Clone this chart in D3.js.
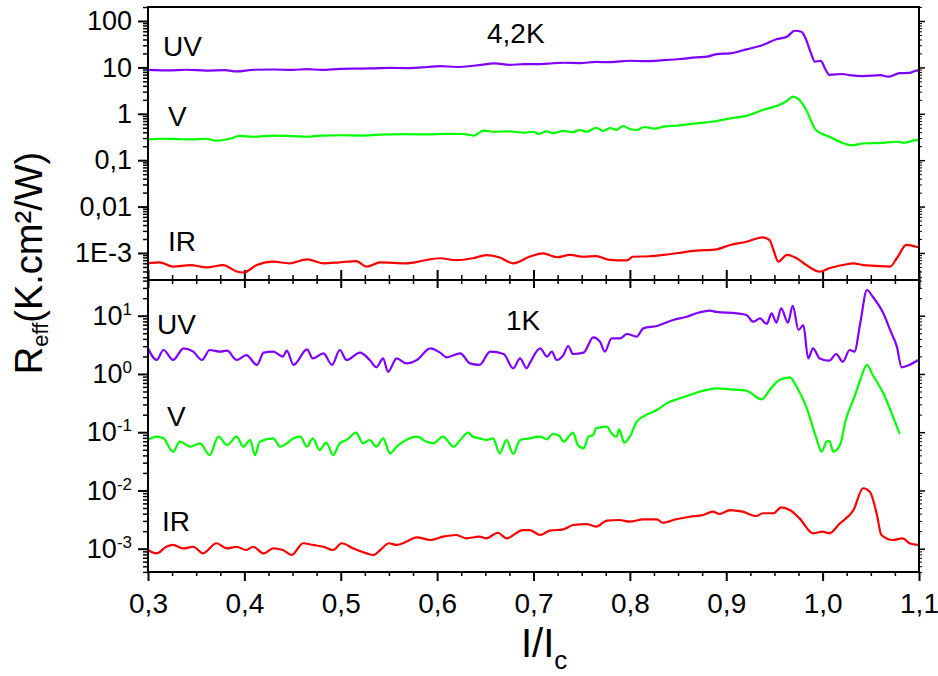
<!DOCTYPE html>
<html><head><meta charset="utf-8">
<script src="https://cdn.jsdelivr.net/npm/d3@7"></script>
<style>
body{margin:0;background:#fff}
text{font-family:"Liberation Sans",Arial,Helvetica,sans-serif;fill:#000}
</style>
</head><body>
<svg id="chart" width="938" height="676"></svg>
<script>
// ---------------- data ----------------
const xTicks = [0.3,0.4,0.5,0.6,0.7,0.8,0.9,1.0,1.1];
const xTickLabels = ["0,3","0,4","0,5","0,6","0,7","0,8","0,9","1,0","1,1"];
const topTicks = [100,10,1,0.1,0.01,0.001];
const topTickLabels = ["100","10","1","0,1","0,01","1E-3"];
const botTicks = [10,1,0.1,0.01,0.001];
const botTickExps = ["1","0","-1","-2","-3"];
const seriesNames = ["UV","V","IR"];
const seriesColors = ["#8000ff","#00ff00","#ff0000"];
const panelLabels = ["4,2K","1K"];

// 4,2 K panel
const uvHot = [[0.300,8.8],[0.320,8.6],[0.340,8.9],[0.360,8.5],[0.380,8.7],[0.392,8.2],[0.410,8.9],[0.430,9.0],[0.450,8.8],[0.465,9.2],[0.480,8.8],[0.500,9.3],[0.520,9.4],[0.533,9.5],[0.550,9.8],[0.570,9.6],[0.590,10.2],[0.603,10.7],[0.620,10.2],[0.640,11.0],[0.660,12.2],[0.675,11.3],[0.690,11.8],[0.707,11.8],[0.720,12.3],[0.731,12.6],[0.748,12.4],[0.765,13.1],[0.780,13.0],[0.800,13.9],[0.818,13.6],[0.835,14.4],[0.850,15.0],[0.869,16.5],[0.880,17.0],[0.890,19.4],[0.904,20.1],[0.921,24.5],[0.938,30.4],[0.952,40.4],[0.963,45.9],[0.971,61.6],[0.978,58.8],[0.983,39],[0.988,20],[0.992,13.3],[0.998,13.8],[1.003,9.0],[1.007,6.9],[1.020,7.2],[1.030,6.7],[1.042,6.5],[1.060,6.8],[1.068,6.3],[1.080,7.5],[1.090,7.6],[1.097,8.5],[1.100,8.6]];
const vHot = [[0.300,0.282],[0.315,0.29],[0.330,0.285],[0.345,0.28],[0.360,0.29],[0.371,0.263],[0.385,0.29],[0.395,0.333],[0.410,0.32],[0.430,0.34],[0.450,0.33],[0.465,0.32],[0.480,0.34],[0.500,0.345],[0.520,0.34],[0.540,0.355],[0.568,0.363],[0.590,0.36],[0.610,0.37],[0.627,0.367],[0.638,0.34],[0.648,0.432],[0.660,0.41],[0.675,0.42],[0.690,0.39],[0.700,0.41],[0.705,0.37],[0.714,0.42],[0.720,0.38],[0.731,0.43],[0.740,0.40],[0.748,0.448],[0.755,0.41],[0.765,0.50],[0.772,0.43],[0.780,0.49],[0.786,0.45],[0.793,0.546],[0.800,0.47],[0.807,0.448],[0.815,0.52],[0.825,0.48],[0.835,0.527],[0.850,0.56],[0.869,0.624],[0.890,0.70],[0.904,0.80],[0.921,0.90],[0.938,1.21],[0.952,1.47],[0.963,1.89],[0.969,2.34],[0.976,1.98],[0.983,1.21],[0.993,0.448],[1.007,0.32],[1.024,0.223],[1.030,0.21],[1.042,0.229],[1.060,0.235],[1.077,0.25],[1.085,0.238],[1.097,0.272],[1.100,0.27]];
const irHot = [[0.300,6.0e-4],[0.312,6.3e-4],[0.326,5.1e-4],[0.344,5.5e-4],[0.361,4.9e-4],[0.378,5.5e-4],[0.392,4.0e-4],[0.399,3.8e-4],[0.413,5.5e-4],[0.430,6.5e-4],[0.447,6.0e-4],[0.465,7.3e-4],[0.482,6.0e-4],[0.499,6.3e-4],[0.516,6.7e-4],[0.527,5.1e-4],[0.541,6.3e-4],[0.568,6.0e-4],[0.585,6.8e-4],[0.603,7.7e-4],[0.620,7.0e-4],[0.637,7.7e-4],[0.651,9.0e-4],[0.665,8.0e-4],[0.679,6.0e-4],[0.696,8.3e-4],[0.710,9.8e-4],[0.724,8.1e-4],[0.738,9.1e-4],[0.752,8.3e-4],[0.765,8.6e-4],[0.779,7.1e-4],[0.797,6.9e-4],[0.803,8.3e-4],[0.820,8.5e-4],[0.835,9.1e-4],[0.850,1.0e-3],[0.869,1.12e-3],[0.890,1.2e-3],[0.904,1.49e-3],[0.921,1.75e-3],[0.938,2.18e-3],[0.945,1.9e-3],[0.949,1.16e-3],[0.954,6.5e-4],[0.963,9.1e-4],[0.973,7.7e-4],[0.983,5.5e-4],[0.997,3.95e-4],[1.007,4.7e-4],[1.021,5.5e-4],[1.032,6.0e-4],[1.042,5.5e-4],[1.055,5.3e-4],[1.070,5.1e-4],[1.077,7.7e-4],[1.087,1.49e-3],[1.097,1.36e-3],[1.100,1.3e-3]];

// 1 K panel
const uvCold = [[0.300,2.75],[0.309,1.74],[0.316,2.58],[0.326,1.74],[0.337,2.75],[0.347,2.41],[0.356,1.74],[0.364,2.58],[0.375,2.41],[0.382,2.51],[0.392,1.74],[0.402,2.11],[0.413,1.43],[0.420,2.32],[0.430,2.41],[0.440,1.98],[0.444,2.51],[0.451,1.43],[0.465,2.65],[0.471,1.85],[0.482,2.26],[0.491,1.43],[0.499,2.58],[0.506,1.74],[0.520,2.32],[0.530,1.74],[0.537,1.30],[0.544,1.85],[0.549,1.09],[0.558,1.85],[0.568,1.52],[0.579,1.74],[0.593,2.75],[0.603,2.32],[0.610,1.93],[0.624,2.26],[0.634,1.52],[0.644,1.43],[0.655,2.41],[0.669,2.2],[0.679,1.25],[0.686,1.85],[0.693,1.25],[0.696,1.52],[0.707,2.75],[0.714,1.98],[0.719,2.41],[0.724,1.74],[0.731,2.11],[0.736,3.02],[0.741,2.2],[0.752,2.32],[0.762,4.26],[0.769,3.58],[0.774,2.41],[0.781,4.09],[0.790,4.09],[0.797,4.85],[0.807,4.37],[0.814,6.07],[0.828,6.65],[0.845,8.43],[0.859,9.6],[0.869,11.0],[0.883,12.2],[0.890,11.6],[0.911,11.0],[0.921,10.3],[0.928,7.89],[0.935,9.0],[0.942,7.2],[0.947,11.0],[0.952,7.6],[0.957,13.4],[0.964,7.6],[0.969,14.7],[0.975,5.7],[0.980,6.9],[0.985,1.85],[0.990,2.75],[0.997,1.85],[1.007,1.69],[1.014,2.2],[1.021,1.62],[1.028,2.58],[1.033,2.41],[1.039,7.4],[1.046,27.6],[1.052,21.2],[1.063,11.0],[1.070,5.7],[1.077,2.94],[1.082,1.30],[1.090,1.43],[1.099,1.74]];
const vCold = [[0.300,0.0735],[0.309,0.0838],[0.316,0.0785],[0.326,0.0462],[0.333,0.0687],[0.344,0.0564],[0.354,0.0644],[0.364,0.0405],[0.373,0.0838],[0.382,0.0603],[0.392,0.0838],[0.399,0.0564],[0.406,0.0735],[0.411,0.0405],[0.416,0.0687],[0.430,0.0785],[0.437,0.0564],[0.444,0.0644],[0.451,0.0785],[0.458,0.0838],[0.465,0.0564],[0.471,0.0785],[0.478,0.0494],[0.485,0.066],[0.492,0.0405],[0.499,0.0644],[0.506,0.0735],[0.516,0.098],[0.523,0.0644],[0.530,0.0735],[0.537,0.0564],[0.544,0.0785],[0.551,0.0434],[0.558,0.0564],[0.568,0.0735],[0.579,0.0838],[0.589,0.0687],[0.596,0.0644],[0.606,0.0838],[0.617,0.0564],[0.624,0.0735],[0.632,0.098],[0.637,0.0838],[0.644,0.0785],[0.651,0.0735],[0.658,0.0785],[0.665,0.0434],[0.672,0.0735],[0.679,0.0423],[0.686,0.0735],[0.696,0.0785],[0.707,0.0838],[0.714,0.0755],[0.720,0.0931],[0.727,0.086],[0.731,0.0687],[0.738,0.0895],[0.741,0.098],[0.746,0.0603],[0.752,0.0528],[0.757,0.0838],[0.762,0.0895],[0.765,0.1167],[0.776,0.1242],[0.781,0.0957],[0.786,0.0838],[0.789,0.112],[0.794,0.066],[0.800,0.0838],[0.807,0.151],[0.815,0.19],[0.828,0.24],[0.838,0.313],[0.852,0.382],[0.869,0.477],[0.876,0.515],[0.890,0.567],[0.904,0.545],[0.921,0.515],[0.937,0.366],[0.945,0.53],[0.955,0.787],[0.966,0.875],[0.973,0.604],[0.983,0.274],[0.993,0.0838],[0.999,0.0462],[1.004,0.0687],[1.007,0.0714],[1.011,0.0462],[1.018,0.0603],[1.024,0.162],[1.033,0.406],[1.039,0.787],[1.046,1.43],[1.052,0.96],[1.063,0.465],[1.073,0.185],[1.080,0.0931]];
const irCold = [[0.300,9.5e-4],[0.309,8.3e-4],[0.319,1.08e-3],[0.326,1.16e-3],[0.337,1.01e-3],[0.347,1.08e-3],[0.357,8.3e-4],[0.371,1.24e-3],[0.382,1.01e-3],[0.392,1.08e-3],[0.402,9.5e-4],[0.409,1.08e-3],[0.420,8.3e-4],[0.430,1.01e-3],[0.440,9.5e-4],[0.449,7.8e-4],[0.461,1.24e-3],[0.471,1.16e-3],[0.482,1.08e-3],[0.492,9.5e-4],[0.501,1.24e-3],[0.513,1.01e-3],[0.527,8.3e-4],[0.534,7.8e-4],[0.541,9.5e-4],[0.550,1.24e-3],[0.558,1.16e-3],[0.568,1.32e-3],[0.579,1.57e-3],[0.593,1.41e-3],[0.606,1.61e-3],[0.620,1.72e-3],[0.630,1.51e-3],[0.644,1.61e-3],[0.651,1.51e-3],[0.663,1.88e-3],[0.672,1.51e-3],[0.689,2.09e-3],[0.696,2.09e-3],[0.707,1.72e-3],[0.717,2.04e-3],[0.731,2.15e-3],[0.741,2.55e-3],[0.755,2.65e-3],[0.765,2.39e-3],[0.776,3.03e-3],[0.789,3.11e-3],[0.800,2.91e-3],[0.814,3.2e-3],[0.828,3.2e-3],[0.834,2.79e-3],[0.848,3.2e-3],[0.862,3.54e-3],[0.876,3.79e-3],[0.886,4.32e-3],[0.893,3.94e-3],[0.904,4.61e-3],[0.917,4.32e-3],[0.931,3.64e-3],[0.938,4.06e-3],[0.949,4.06e-3],[0.957,5.14e-3],[0.966,4.61e-3],[0.976,3.32e-3],[0.990,1.84e-3],[1.000,1.96e-3],[1.007,1.84e-3],[1.018,2.73e-3],[1.032,4.61e-3],[1.042,1.09e-2],[1.049,9.5e-3],[1.056,4.06e-3],[1.061,1.72e-3],[1.073,1.41e-3],[1.083,1.51e-3],[1.090,1.24e-3],[1.099,1.16e-3]];

// ---------------- drawing ----------------
const svg = d3.select("#chart");
svg.append("rect").attr("width",938).attr("height",676).attr("fill","#fff");

const L = 148, R = 919, T = 7, MID = 280, B = 572;
const x = d3.scaleLinear().domain([0.3,1.1]).range([L,R]);
const yTop = d3.scaleLog().domain([Math.pow(10,-3.582), Math.pow(10,2.3017)]).range([MID,T]);
const yBot = d3.scaleLog().domain([Math.pow(10,-3.4), Math.pow(10,1.613)]).range([B,MID]);

const xMinor = d3.range(0,33).map(i => +(0.3 + i*0.025).toFixed(3)).filter(v => !xTicks.some(t => Math.abs(t-v)<1e-6));

function logMinor(scale){
  const [a,b] = scale.domain();
  const out = [];
  for(let k=Math.floor(Math.log10(a)); k<=Math.ceil(Math.log10(b)); k++){
    for(let m=2;m<=9;m++){ const v=m*Math.pow(10,k); if(v>=a && v<=b) out.push(v); }
  }
  return out;
}

function styleAxis(g, w){
  g.select(".domain").remove();
  g.selectAll(".tick line").attr("stroke","#000").attr("stroke-width",w);
}

function drawPanel(yS, topY, botY, ticks, labFn, hasTopTicks, hasBottomLabels){
  const gl = svg.append("g").attr("transform",`translate(${L},0)`)
    .call(d3.axisLeft(yS).tickValues(ticks).tickSize(10).tickSizeOuter(0).tickPadding(6).tickFormat(""));
  styleAxis(gl,2);
  gl.selectAll(".tick text").each(function(d,i){ labFn(d3.select(this), i); });
  const glm = svg.append("g").attr("transform",`translate(${L},0)`)
    .call(d3.axisLeft(yS).tickValues(logMinor(yS)).tickSize(5).tickSizeOuter(0).tickFormat(""));
  styleAxis(glm,1.5);
  const gr = svg.append("g").attr("transform",`translate(${R},0)`)
    .call(d3.axisRight(yS).tickValues(ticks).tickSize(6).tickSizeOuter(0).tickFormat(""));
  styleAxis(gr,1.5);
  const grm = svg.append("g").attr("transform",`translate(${R},0)`)
    .call(d3.axisRight(yS).tickValues(logMinor(yS)).tickSize(3).tickSizeOuter(0).tickFormat(""));
  styleAxis(grm,1);
  if(hasTopTicks){
    const gt = svg.append("g").attr("transform",`translate(0,${topY})`)
      .call(d3.axisTop(x).tickValues(xTicks).tickSize(10).tickSizeOuter(0).tickFormat(""));
    styleAxis(gt,2);
    const gtm = svg.append("g").attr("transform",`translate(0,${topY})`)
      .call(d3.axisTop(x).tickValues(xMinor).tickSize(5).tickSizeOuter(0).tickFormat(""));
    styleAxis(gtm,1.5);
  }
  const gb = svg.append("g").attr("transform",`translate(0,${botY})`)
    .call(d3.axisBottom(x).tickValues(xTicks).tickSize(hasBottomLabels?9:8).tickSizeOuter(0).tickPadding(12)
      .tickFormat((d,i)=> hasBottomLabels ? xTickLabels[i] : ""));
  styleAxis(gb,2);
  gb.selectAll(".tick text").attr("font-size",28).attr("fill","#000");
  const gbm = svg.append("g").attr("transform",`translate(0,${botY})`)
    .call(d3.axisBottom(x).tickValues(xMinor).tickSize(4).tickSizeOuter(0).tickFormat(""));
  styleAxis(gbm,1.5);
}

drawPanel(yTop, T, MID, topTicks, (t,i)=>{
  t.text(topTickLabels[i]).attr("font-size",27).attr("fill","#000");
}, false, false);
drawPanel(yBot, MID, B, botTicks, (t,i)=>{
  t.text(null).attr("font-size",27).attr("fill","#000");
  t.append("tspan").text("10");
  t.append("tspan").attr("dy",-10).attr("font-size",17).text(botTickExps[i]);
}, true, true);

const defs = svg.append("defs");
defs.append("clipPath").attr("id","clipTop").append("rect").attr("x",L).attr("y",T).attr("width",R-L).attr("height",MID-T);
defs.append("clipPath").attr("id","clipBot").append("rect").attr("x",L).attr("y",MID).attr("width",R-L).attr("height",B-MID);

function drawLine(data, yS, color, clip){
  const line = d3.line().x(d=>x(d[0])).y(d=>yS(d[1])).curve(d3.curveMonotoneX);
  svg.append("path").datum(data).attr("d",line).attr("fill","none")
    .attr("stroke",color).attr("stroke-width",2.2).attr("stroke-linejoin","round")
    .attr("clip-path",`url(#${clip})`);
}
[uvHot,vHot,irHot].forEach((s,i)=>drawLine(s,yTop,seriesColors[i],"clipTop"));
[uvCold,vCold,irCold].forEach((s,i)=>drawLine(s,yBot,seriesColors[i],"clipBot"));

svg.append("rect").attr("x",L).attr("y",T).attr("width",R-L).attr("height",MID-T)
  .attr("fill","none").attr("stroke","#000").attr("stroke-width",2);
svg.append("rect").attr("x",L).attr("y",MID).attr("width",R-L).attr("height",B-MID)
  .attr("fill","none").attr("stroke","#000").attr("stroke-width",2);

const lab = (txt,px,py)=>svg.append("text").attr("x",px).attr("y",py).attr("font-size",28).text(txt);
lab(seriesNames[0],163,56); lab(seriesNames[1],168,126); lab(seriesNames[2],168,251);
lab(panelLabels[0],487,43);
lab(seriesNames[0],157,334); lab(seriesNames[1],167,426); lab(seriesNames[2],162,531);
lab(panelLabels[1],506,330);

const yt = svg.append("text").attr("transform","translate(42,263) rotate(-90)")
  .attr("text-anchor","middle").attr("font-size",38);
yt.append("tspan").text("R");
yt.append("tspan").attr("font-size",22).attr("dy",6).text("eff");
yt.append("tspan").attr("dy",-6).text("(K.cm\u00b2/W)");

const xt = svg.append("text").attr("x",521).attr("y",657).attr("font-size",40);
xt.append("tspan").text("I/I");
xt.append("tspan").attr("font-size",26).attr("dy",12).text("c");
</script>
</body></html>
